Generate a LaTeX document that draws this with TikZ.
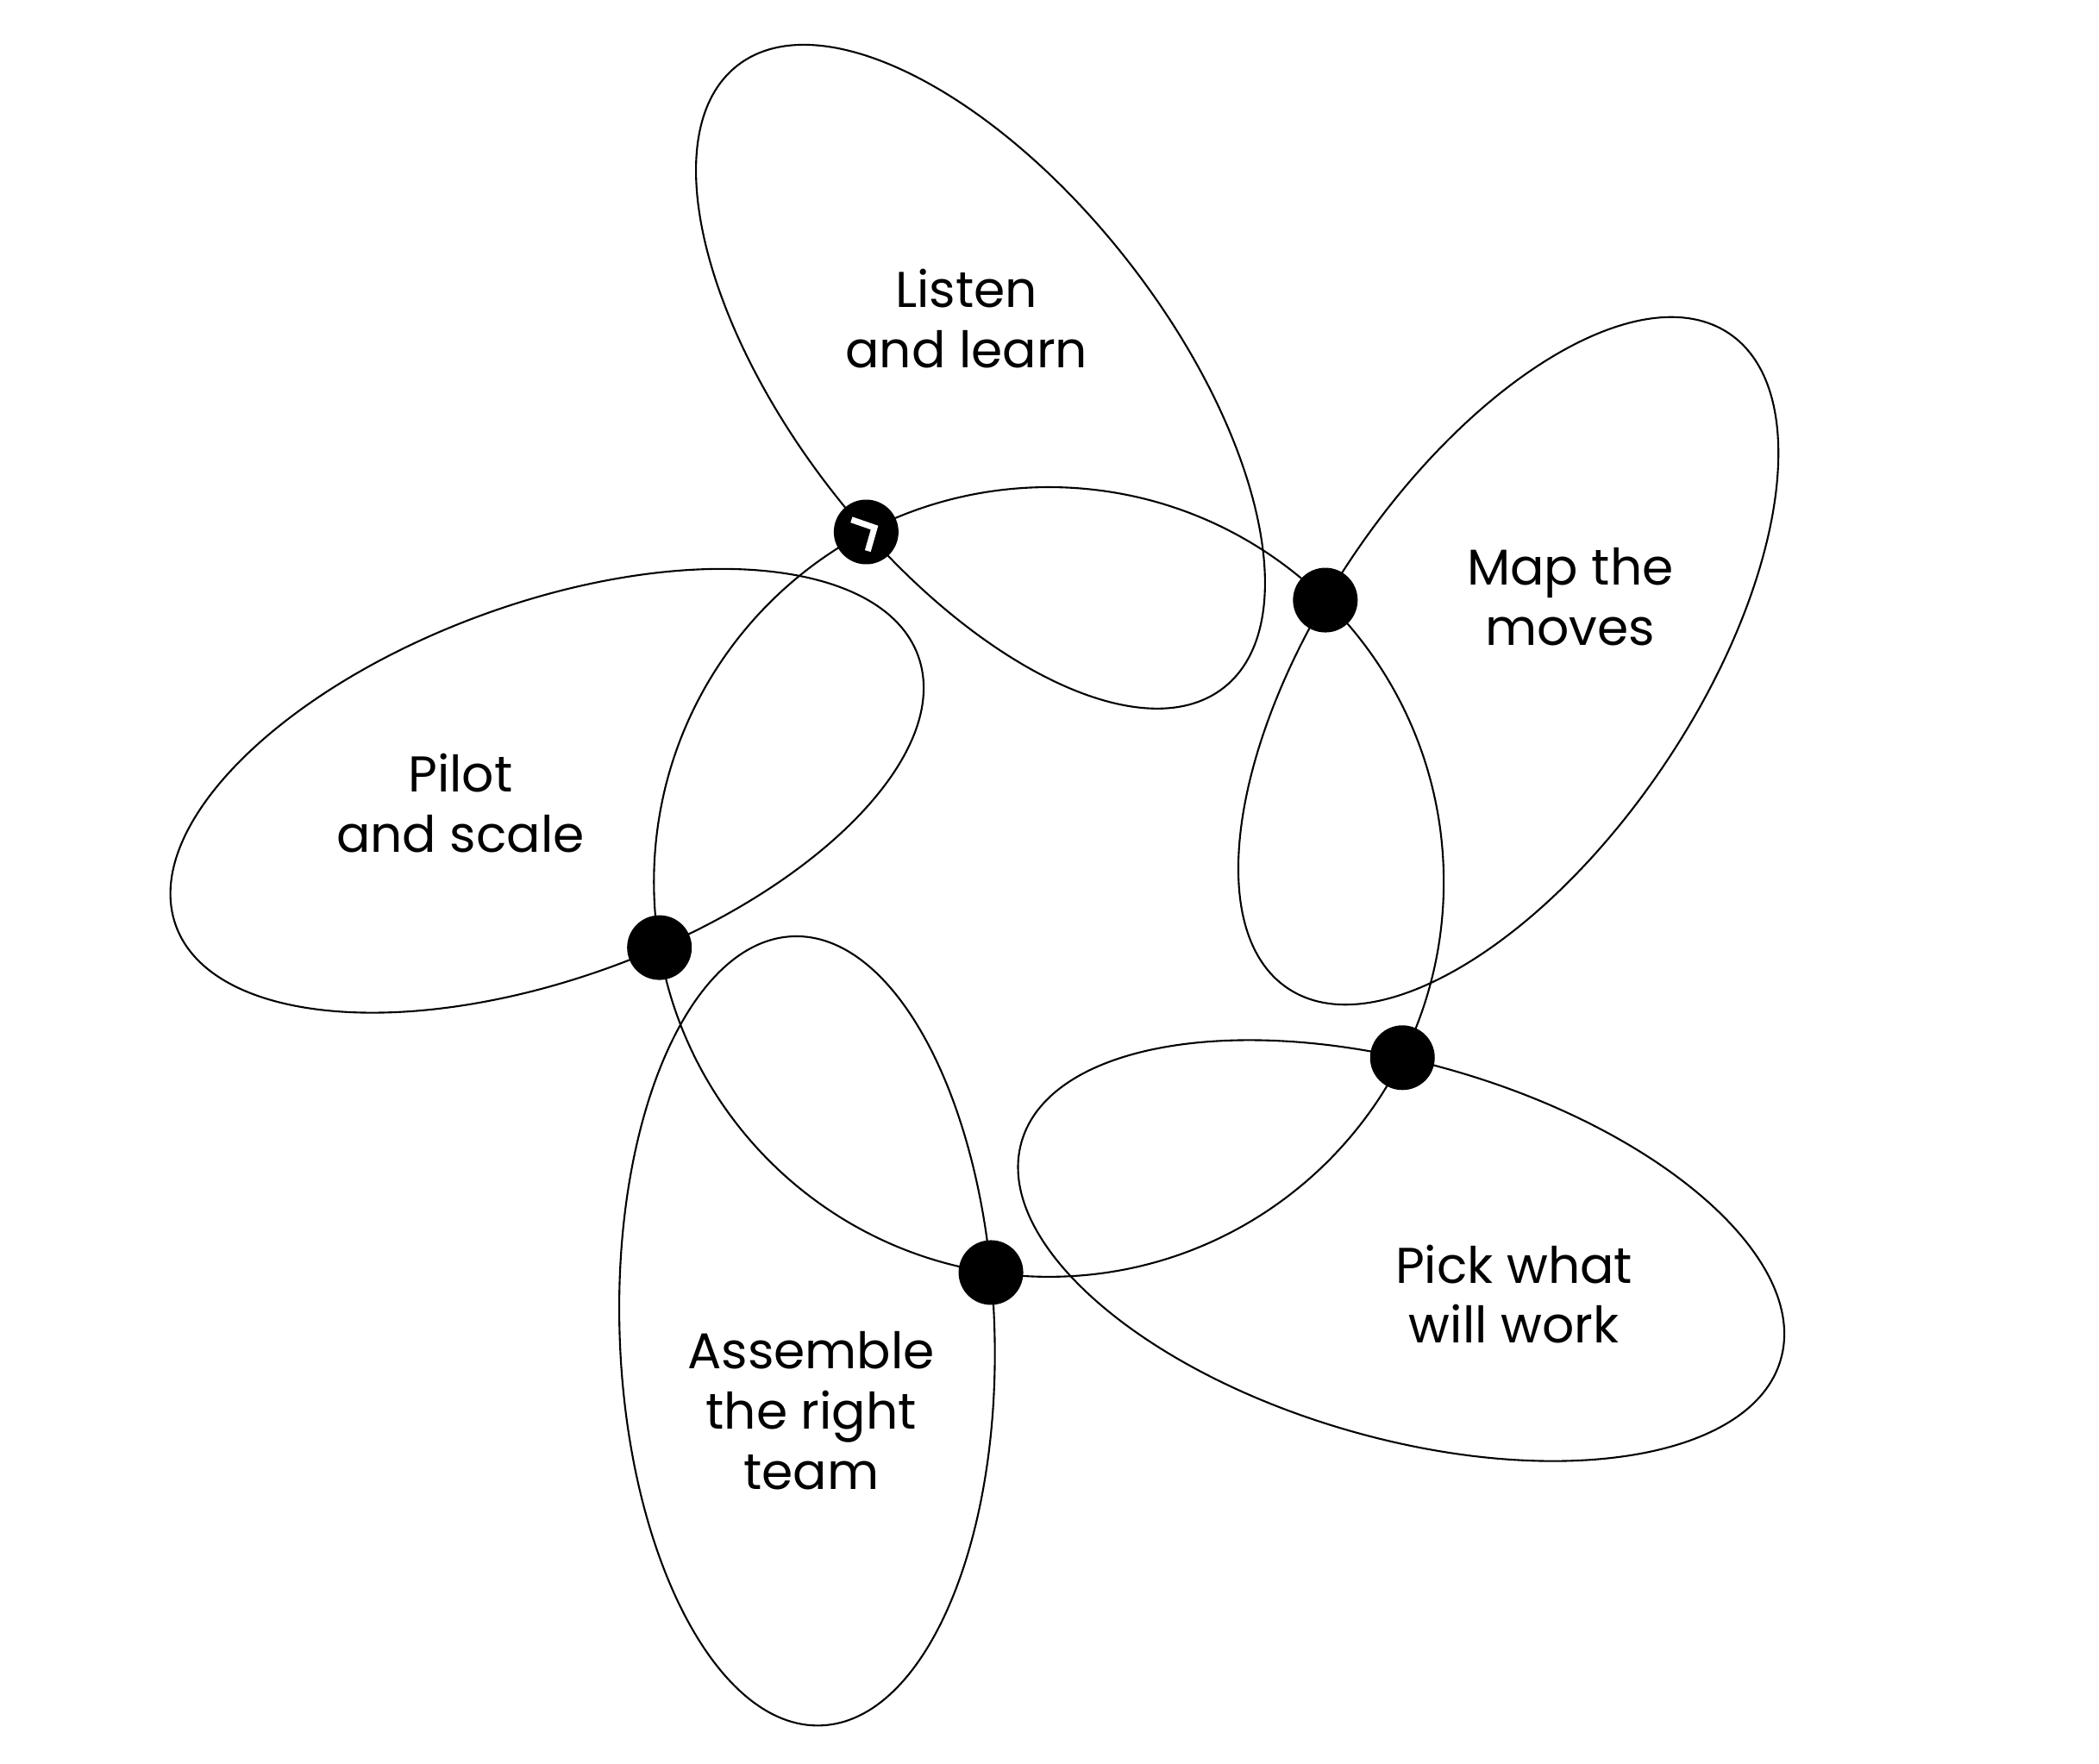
\documentclass[tikz,border=0pt]{standalone}
\usepackage{fontspec}
\setmainfont{Poppins}
\usepackage{tikz}
\usetikzlibrary{intersections}
\definecolor{ink}{HTML}{000000}

\begin{document}
\begin{tikzpicture}[x=0.15523mm,y=0.15523mm,line width=0.6pt,
  stop/.style={circle,fill=ink,inner sep=0pt,minimum size=7.5mm},
  lbl/.style={align=center,text=ink,font=\fontsize{16.6}{19.85}\selectfont}]
  \useasboundingbox (-783.5,-659) rectangle (784.5,659);
  \draw[ink] (0,0) circle (295);
  \foreach \k in {0,...,4}{
    \pgfmathsetmacro{\ca}{97.7-72*\k}
    \pgfmathsetmacro{\ra}{128-72*\k}
    \pgfmathsetmacro{\da}{117.5-72*\k}
    \draw[ink,name path global=petal\k,rotate around={\ra:(\ca:381)}]
      (\ca:381) ellipse [x radius=295,y radius=140];
    % piece of the ring where the stop sits
    \path[name path global=near\k] (\da-15:295)
      arc[start angle=\da-15,end angle=\da+15,radius=295];
  }
  \foreach \k in {0,...,4}{
    \path[name intersections={of={near\k} and {petal\k}}]
      (intersection-1) node[stop] (dot\k) {};
  }
  % turn sign on the first stop
  \draw[white,line width=2pt,shift={(dot0.center)},rotate=27.5]
    (-5.5,13.2) -- (7,0) -- (-5.5,-13.2);
  \foreach \n/\p/\t in {listen/{(-61.5,421)}/{Listen\\and learn},
      map/{(389.5,213)}/{Map the\\moves},
      pick/{(347.5,-308)}/{Pick what\\will work},
      team/{(-177.5,-395)}/{Assemble\\the right\\team},
      pilot/{(-439.5,59)}/{Pilot\\and scale}}{
    \node[lbl] (\n) at \p {\t};
  }
\end{tikzpicture}
\end{document}
